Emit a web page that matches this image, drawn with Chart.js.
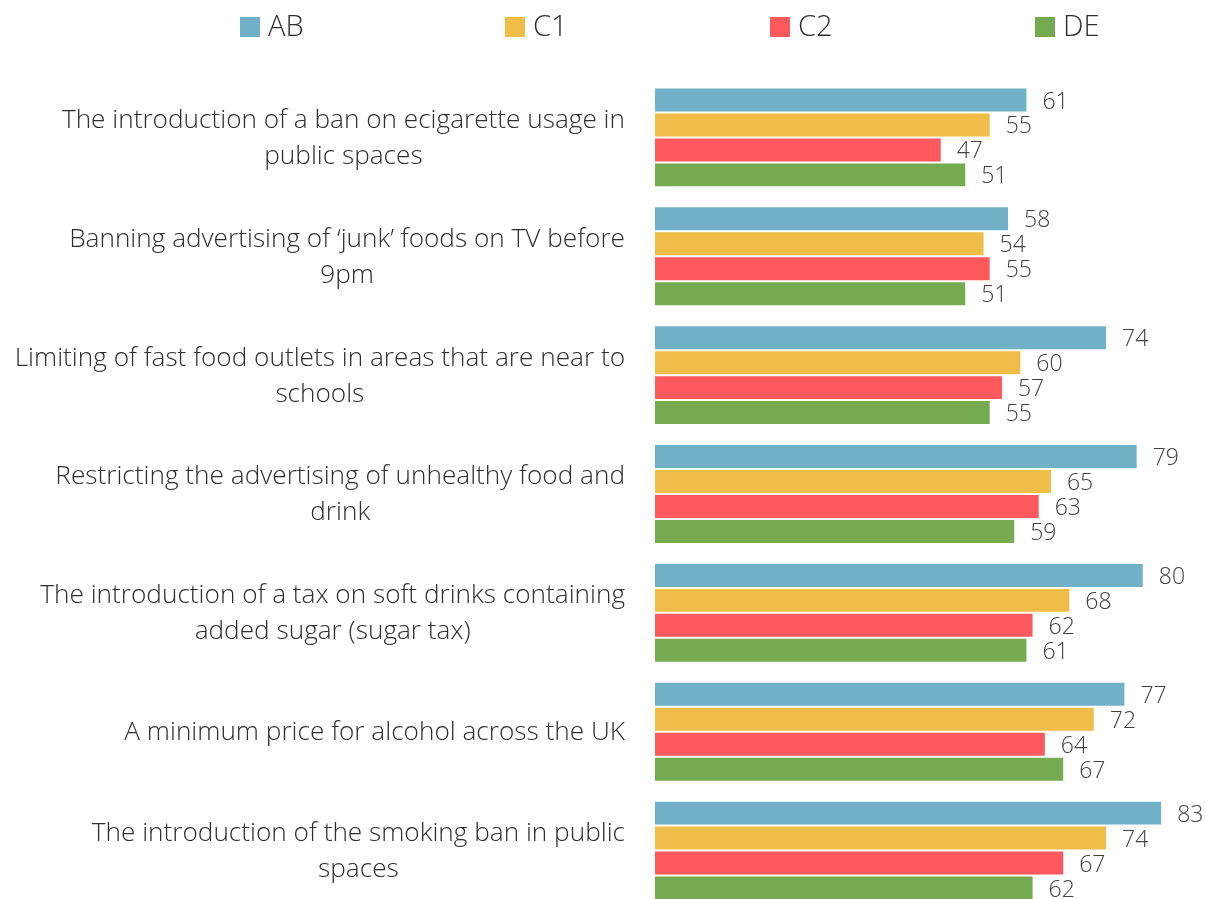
<!DOCTYPE html>
<html>
<head>
<meta charset="utf-8">
<script src="https://cdn.jsdelivr.net/npm/chart.js@4.4.1/dist/chart.umd.min.js"></script>
<style>
  html, body { margin: 0; padding: 0; background: #fff; overflow: hidden; }
  #wrap { position: relative; width: 1205px; height: 910px; }
</style>
</head>
<body>
<div id="wrap"><canvas id="chart"></canvas></div>
<script>
// Policy support by social grade (%)
const categories = [
  ["The introduction of a ban on ecigarette usage in", "public spaces"],
  ["Banning advertising of \u2018junk\u2019 foods on TV before", "9pm"],
  ["Limiting of fast food outlets in areas that are near to", "schools"],
  ["Restricting the advertising of unhealthy food and", "drink"],
  ["The introduction of a tax on soft drinks containing", "added sugar (sugar tax)"],
  ["A minimum price for alcohol across the UK"],
  ["The introduction of the smoking ban in public", "spaces"]
];
const seriesNames = ["AB", "C1", "C2", "DE"];
const abValues = [61, 58, 74, 79, 80, 77, 83];
const c1Values = [55, 54, 60, 65, 68, 72, 74];
const c2Values = [47, 55, 57, 63, 62, 64, 67];
const deValues = [51, 51, 55, 59, 61, 67, 62];
const seriesColors = ["#70B1C8", "#F0BD48", "#FF585D", "#74AA50"];

const FONT = "'Open Sans', 'Noto Sans', sans-serif";
const TEXT = "#2e2e2e";

// Value labels at the end of each bar
const valueLabels = {
  id: "valueLabels",
  afterDatasetsDraw(chart) {
    const ctx = chart.ctx;
    ctx.save();
    ctx.font = "300 23px " + FONT;
    ctx.fillStyle = "#404040";
    ctx.textAlign = "left";
    ctx.textBaseline = "middle";
    chart.data.datasets.forEach((ds, di) => {
      const meta = chart.getDatasetMeta(di);
      meta.data.forEach((bar, i) => {
        ctx.fillText(String(ds.data[i]), bar.x + 15, bar.y + 2);
      });
    });
    ctx.restore();
  }
};

// Category labels: each block right-aligned to the axis, lines centred within it
const categoryLabels = {
  id: "categoryLabels",
  afterDraw(chart) {
    const ctx = chart.ctx;
    const scale = chart.scales.y;
    const lineH = 36;
    ctx.save();
    ctx.font = "300 26.2px " + FONT;
    ctx.fillStyle = TEXT;
    ctx.textAlign = "center";
    ctx.textBaseline = "middle";
    const right = scale.right - 29;
    chart.data.labels.forEach((lines, i) => {
      const y = scale.getPixelForTick(i);
      const widest = Math.max(...lines.map(l => ctx.measureText(l).width));
      const cx = right - widest / 2;
      const top = y - (lines.length - 1) * lineH / 2;
      lines.forEach((l, k) => ctx.fillText(l, cx, top + k * lineH + 1));
    });
    ctx.restore();
  }
};

// Legend row across the top
const topLegend = {
  id: "topLegend",
  afterDraw(chart) {
    const ctx = chart.ctx;
    ctx.save();
    ctx.font = "300 29px " + FONT;
    ctx.textAlign = "left";
    ctx.textBaseline = "middle";
    chart.data.datasets.forEach((ds, i) => {
      const x = 240 + i * 265;
      ctx.fillStyle = ds.backgroundColor;
      ctx.fillRect(x, 17, 20, 20);
      ctx.fillStyle = TEXT;
      ctx.fillText(ds.label, x + 28, 28);
    });
    ctx.restore();
  }
};

const valueSets = [abValues, c1Values, c2Values, deValues];

new Chart(document.getElementById("chart"), {
  type: "bar",
  data: {
    labels: categories,
    datasets: seriesNames.map((name, i) => ({
      label: name,
      data: valueSets[i],
      backgroundColor: seriesColors[i],
      borderColor: "rgba(255,255,255,0.45)",
      borderWidth: 1,
      borderSkipped: false,
      categoryPercentage: 0.84,
      barPercentage: 1.0
    }))
  },
  options: {
    indexAxis: "y",
    responsive: true,
    maintainAspectRatio: false,
    animation: false,
    layout: { padding: { top: 78, left: 0, right: 0, bottom: 0 } },
    plugins: { legend: { display: false }, tooltip: { enabled: false } },
    scales: {
      x: { display: false, min: 0, max: 90 },
      y: {
        grid: { display: false, drawTicks: false },
        border: { display: false },
        ticks: { display: false },
        afterFit(scale) { scale.width = 654; }
      }
    }
  },
  plugins: [valueLabels, categoryLabels, topLegend]
});
</script>
</body>
</html>
